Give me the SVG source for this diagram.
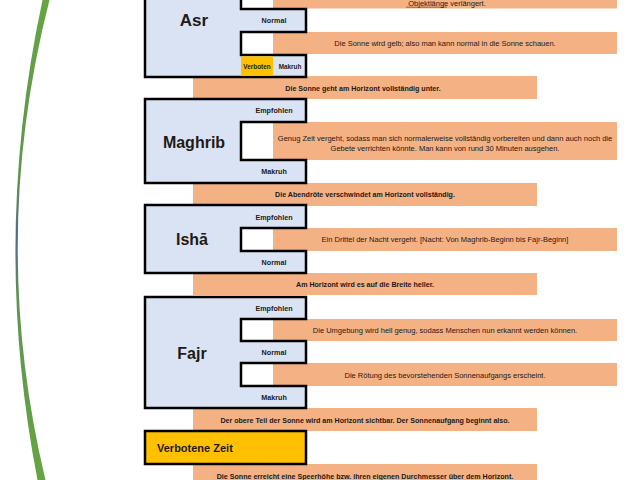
<svg xmlns="http://www.w3.org/2000/svg" width="640" height="480" viewBox="0 0 640 480">
<defs>
<linearGradient id="gc" x1="0" y1="0" x2="0" y2="1">
<stop offset="0" stop-color="#66a543"/>
<stop offset="0.38" stop-color="#5f9350"/>
<stop offset="0.5" stop-color="#4d6c88"/>
<stop offset="0.62" stop-color="#5f9350"/>
<stop offset="1" stop-color="#66a543"/>
</linearGradient>
<style>
.bar{fill:#f4b183}
.box{fill:#dae3f3;stroke:#000;stroke-width:2.5;stroke-linejoin:miter}
.yel{fill:#ffc000}
.t{font-family:"Liberation Sans",Arial,sans-serif;fill:#1f1a17;text-anchor:middle}
.r{font-size:7.5px}
.b{font-size:7.1px;font-weight:bold}
.lab{font-size:7.2px;font-weight:bold}
.big{font-size:17px;font-weight:bold}
</style>
</defs>
<rect width="640" height="480" fill="#fff"/>
<path d="M42.5,0 Q-9,240 37.5,480 L45.5,480 Q-12,240 49.5,0 Z" fill="url(#gc)"/>

<g id="transitions">
<g id="t0"><rect class="bar" x="273" y="-10" width="344" height="18.5"/>
<text class="t r" x="447" y="5.8">Objektlänge verlängert.</text>
<line x1="406" y1="7.2" x2="447" y2="7.2" stroke="#1f1a17" stroke-width="0.5"/></g>
<g id="t1"><rect class="bar" x="273" y="32" width="344" height="22"/>
<text class="t r" x="445" y="45.7">Die Sonne wird gelb; also man kann normal in die Sonne schauen.</text></g>
<g id="t2"><rect class="bar" x="193" y="76" width="344" height="23"/>
<text class="t b" x="363" y="90.5">Die Sonne geht am Horizont vollständig unter.</text></g>
<g id="t3"><rect class="bar" x="273" y="122" width="344" height="38"/>
<text class="t r" x="445" y="140.5">Genug Zeit vergeht, sodass man sich normalerweise vollständig vorbereiten und dann auch noch die</text>
<text class="t r" x="445" y="150.7">Gebete verrichten könnte. Man kann von rund 30 Minuten ausgehen.</text></g>
<g id="t4"><rect class="bar" x="193" y="183" width="344" height="23"/>
<text class="t b" x="365" y="196.7">Die Abendröte verschwindet am Horizont vollständig.</text></g>
<g id="t5"><rect class="bar" x="273" y="228" width="344" height="23"/>
<text class="t r" x="445" y="241.7">Ein Drittel der Nacht vergeht. [Nacht: Von Maghrib-Beginn bis Fajr-Beginn]</text></g>
<g id="t6"><rect class="bar" x="193" y="273" width="344" height="22"/>
<text class="t b" x="365" y="286.7">Am Horizont wird es auf die Breite heller.</text></g>
<g id="t7"><rect class="bar" x="273" y="319" width="344" height="22"/>
<text class="t r" x="445" y="332.7">Die Umgebung wird hell genug, sodass Menschen nun erkannt werden können.</text></g>
<g id="t8"><rect class="bar" x="273" y="363" width="344" height="23"/>
<text class="t r" x="445" y="377.7">Die Rötung des bevorstehenden Sonnenaufgangs erscheint.</text></g>
<g id="t9"><rect class="bar" x="193" y="408" width="344" height="23"/>
<text class="t b" x="365" y="422.7">Der obere Teil der Sonne wird am Horizont sichtbar. Der Sonnenaufgang beginnt also.</text></g>
<g id="t10"><rect class="bar" x="193" y="464" width="344" height="26"/>
<text class="t b" x="365" y="478.5">Die Sonne erreicht eine Speerhöhe bzw. ihren eigenen Durchmesser über dem Horizont.</text></g>
</g>

<g id="asr">
<polygon class="box" points="145,-20 241,-20 241,9 306,9 306,32 241,32 241,55 306,55 306,77 145,77"/>
<rect class="yel" x="241" y="56.3" width="32" height="19.4"/>
<text class="t big" x="194" y="26">Asr</text>
<text class="t lab" x="274" y="22.7">Normal</text>
<text class="t lab" x="257" y="68.5" style="font-size:6.4px">Verboten</text>
<text class="t lab" x="290" y="68.5" style="font-size:6.4px">Makruh</text>
</g>

<g id="maghrib">
<polygon class="box" points="145,99 306,99 306,122 241,122 241,160 306,160 306,183 145,183"/>
<text class="t big" x="194" y="148" style="font-size:16px">Maghrib</text>
<text class="t lab" x="274" y="112.7">Empfohlen</text>
<text class="t lab" x="274" y="173.7">Makruh</text>
</g>

<g id="isha">
<polygon class="box" points="145,205 306,205 306,228 241,228 241,251 306,251 306,273 145,273"/>
<text class="t big" x="192" y="245" style="font-size:16px">Ishā</text>
<text class="t lab" x="274" y="219.7">Empfohlen</text>
<text class="t lab" x="274" y="264.7">Normal</text>
</g>

<g id="fajr">
<polygon class="box" points="145,297 306,297 306,319 241,319 241,341 306,341 306,363 241,363 241,386 306,386 306,408 145,408"/>
<text class="t big" x="192" y="359" style="font-size:16px">Fajr</text>
<text class="t lab" x="274" y="310.7">Empfohlen</text>
<text class="t lab" x="274" y="354.7">Normal</text>
<text class="t lab" x="274" y="399.7">Makruh</text>
</g>

<g id="verboten">
<rect x="145" y="431" width="161" height="33" fill="#ffc000" stroke="#000" stroke-width="2.5"/>
<text class="t" x="157" y="451.5" style="text-anchor:start;font-size:11px;font-weight:bold">Verbotene Zeit</text>
</g>
</svg>
